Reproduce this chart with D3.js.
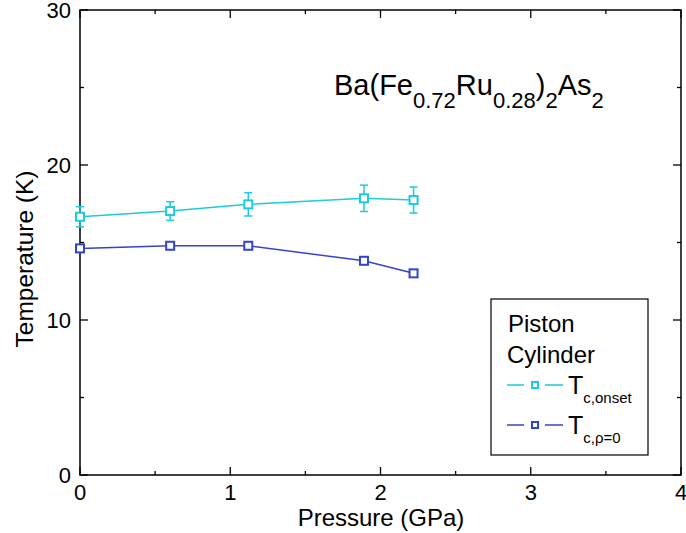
<!DOCTYPE html>
<html><head><meta charset="utf-8">
<script src="https://cdn.jsdelivr.net/npm/d3@7/dist/d3.min.js"></script>
<style>body{margin:0;background:#fff;} text{font-family:"Liberation Sans",Arial,sans-serif;}</style>
</head><body>
<svg id="c" width="686" height="533"></svg>
<script>
const pressure = [0, 0.6, 1.12, 1.89, 2.22];
const tcOnset = [16.66, 17.03, 17.46, 17.85, 17.74];
const tcOnsetErr = [0.65, 0.6, 0.75, 0.85, 0.84];
const tcZero = [14.62, 14.79, 14.79, 13.82, 13.01];
const xTicks = [0, 1, 2, 3, 4];
const yTicks = [0, 10, 20, 30];

const svg = d3.select("#c");
const L = 80, R = 681, T = 10, B = 475;
const x = d3.scaleLinear().domain([0, 4]).range([L, R]);
const y = d3.scaleLinear().domain([0, 30]).range([B, T]);
const cyan = "#1ACCDC", blue = "#3344CC";

svg.append("rect").attr("x", L).attr("y", T).attr("width", R - L).attr("height", B - T)
  .attr("fill", "none").attr("stroke", "#000").attr("stroke-width", 1.5);

const tk = svg.append("g").attr("stroke", "#000").attr("stroke-width", 1.3);
d3.range(0, 4.01, 0.5).forEach(v => {
  const len = Number.isInteger(v) ? 8 : 4;
  tk.append("line").attr("x1", x(v)).attr("x2", x(v)).attr("y1", B).attr("y2", B - len);
  tk.append("line").attr("x1", x(v)).attr("x2", x(v)).attr("y1", T).attr("y2", T + len);
});
d3.range(0, 30.01, 5).forEach(v => {
  const len = v % 10 === 0 ? 8 : 4;
  tk.append("line").attr("y1", y(v)).attr("y2", y(v)).attr("x1", L).attr("x2", L + len);
  tk.append("line").attr("y1", y(v)).attr("y2", y(v)).attr("x1", R).attr("x2", R - len);
});

svg.append("g").selectAll("text").data(xTicks).join("text")
  .attr("x", d => x(d)).attr("y", 500).attr("text-anchor", "middle")
  .attr("font-size", 22).text(d => d);
svg.append("g").selectAll("text").data(yTicks).join("text")
  .attr("x", 71).attr("y", d => y(d) + 7.5).attr("text-anchor", "end")
  .attr("font-size", 22).text(d => d);

svg.append("text").attr("x", 381).attr("y", 526).attr("text-anchor", "middle")
  .attr("font-size", 24).text("Pressure (GPa)");
svg.append("text").attr("transform", `translate(33,259) rotate(-90)`)
  .attr("text-anchor", "middle").attr("font-size", 24.5).text("Temperature (K)");

// title
const tt = svg.append("text").attr("x", 334).attr("y", 95).attr("font-size", 29);
[["Ba(Fe", 0], ["0.72", 1], ["Ru", 0], ["0.28", 1], [")", 0], ["2", 1], ["As", 0], ["2", 1]].forEach(([s, sub], i, arr) => {
  const prevSub = i > 0 && arr[i - 1][1];
  const dy = sub ? 13 : (prevSub ? -13 : 0);
  tt.append("tspan").attr("font-size", sub ? 22 : 29).attr("dy", dy).text(s);
});

const line = (vals) => d3.line().x((d, i) => x(pressure[i])).y(d => y(d))(vals);

function series(vals, err, color) {
  const g = svg.append("g");
  g.append("path").attr("d", line(vals)).attr("fill", "none").attr("stroke", color).attr("stroke-width", 1.5);
  if (err) {
    vals.forEach((v, i) => {
      const cx = x(pressure[i]);
      g.append("line").attr("x1", cx).attr("x2", cx).attr("y1", y(v + err[i])).attr("y2", y(v - err[i]))
        .attr("stroke", color).attr("stroke-width", 1.5);
      [v + err[i], v - err[i]].forEach(e => g.append("line").attr("x1", cx - 4).attr("x2", cx + 4)
        .attr("y1", y(e)).attr("y2", y(e)).attr("stroke", color).attr("stroke-width", 1.5));
    });
  }
  vals.forEach((v, i) => {
    g.append("rect").attr("x", x(pressure[i]) - 4).attr("y", y(v) - 4).attr("width", 8).attr("height", 8)
      .attr("fill", "#fff").attr("stroke", color).attr("stroke-width", 2);
  });
}
series(tcOnset, tcOnsetErr, cyan);
series(tcZero, null, blue);

// legend
svg.append("rect").attr("x", 491).attr("y", 299).attr("width", 157).attr("height", 156)
  .attr("fill", "#fff").attr("stroke", "#000").attr("stroke-width", 1.2);
svg.append("text").attr("x", 508).attr("y", 332).attr("font-size", 24).text("Piston");
svg.append("text").attr("x", 507).attr("y", 363).attr("font-size", 24).text("Cylinder");
const leg = [[cyan, "c,onset", 385], [blue, "c,ρ=0", 425]];
leg.forEach(([c, sub, ly]) => {
  svg.append("line").attr("x1", 507).attr("x2", 524).attr("y1", ly).attr("y2", ly).attr("stroke", c).attr("stroke-width", 1.5);
  svg.append("line").attr("x1", 545).attr("x2", 563).attr("y1", ly).attr("y2", ly).attr("stroke", c).attr("stroke-width", 1.5);
  svg.append("rect").attr("x", 532).attr("y", ly - 3).attr("width", 6).attr("height", 6)
    .attr("fill", "#fff").attr("stroke", c).attr("stroke-width", 2);
  const t = svg.append("text").attr("x", 568).attr("y", ly + 9).attr("font-size", 25);
  t.append("tspan").text("T");
  t.append("tspan").attr("font-size", 15).attr("dy", 9).text(sub);
});
</script>
</body></html>
